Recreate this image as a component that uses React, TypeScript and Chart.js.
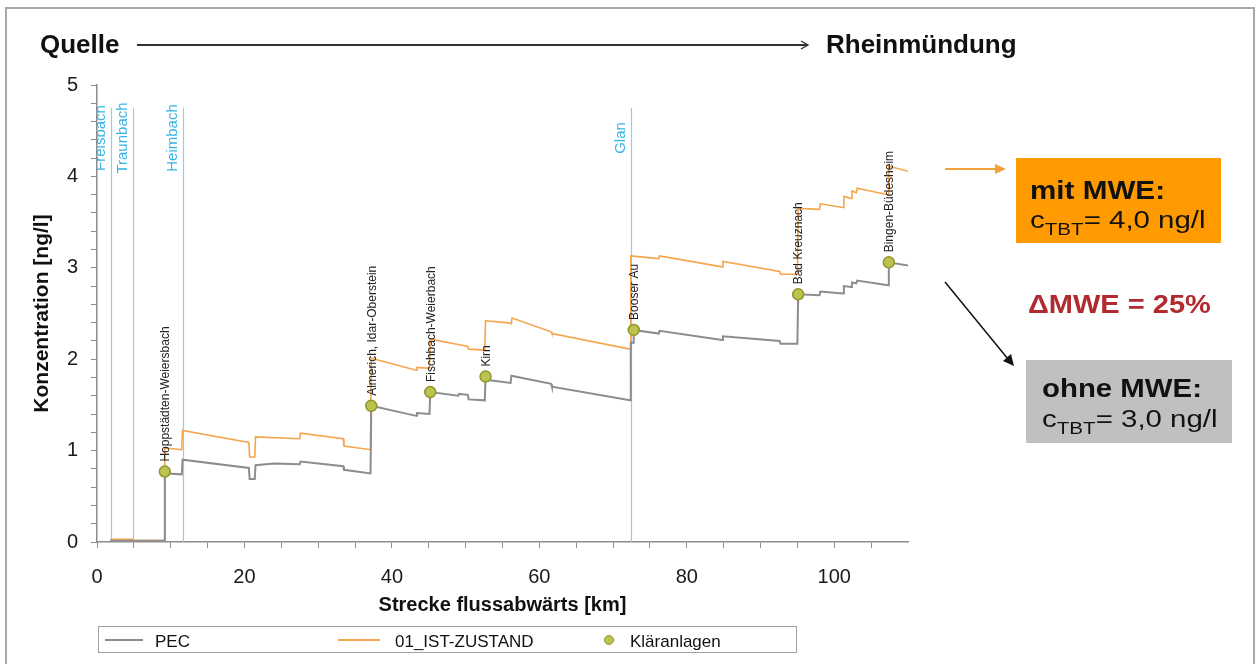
import React, { useEffect, useRef } from "react";
import { Chart, registerables } from "chart.js";

Chart.register(...registerables);

const FONT = '"Liberation Sans", Arial, sans-serif';

// PEC (ohne MWE) – river km and concentration
const pecKm = [0, 1.9, 1.9, 9.2, 9.2, 9.5, 11.5, 11.6, 20.6, 20.7, 21.4, 21.5, 24.0, 27.5, 27.6, 33.4, 33.5, 37.1, 37.2, 43.3, 43.4, 45.1, 45.2, 49.0, 49.1, 50.3, 50.4, 52.6, 52.7, 53.3, 56.1, 56.2, 61.6, 61.7, 72.3, 72.4, 72.8, 72.8, 76.2, 76.3, 84.8, 84.9, 92.6, 92.7, 95.0, 95.1, 98.0, 98.1, 101.2, 101.3, 102.3, 102.4, 103.0, 103.1, 107.3, 107.4, 110.3];
const pecVal = [0, 0, 0.015, 0.015, 0.77, 0.75, 0.74, 0.90, 0.81, 0.69, 0.69, 0.84, 0.86, 0.85, 0.88, 0.83, 0.79, 0.75, 1.49, 1.38, 1.41, 1.40, 1.64, 1.60, 1.62, 1.61, 1.56, 1.55, 1.81, 1.77, 1.74, 1.82, 1.73, 1.70, 1.55, 2.18, 2.18, 2.32, 2.28, 2.31, 2.21, 2.25, 2.20, 2.17, 2.17, 2.71, 2.70, 2.74, 2.72, 2.80, 2.79, 2.84, 2.83, 2.86, 2.81, 3.06, 3.02];

// 01_IST-ZUSTAND (mit MWE)
const istKm = [0, 1.9, 1.9, 4.9, 4.9, 9.2, 9.2, 11.5, 11.6, 20.6, 20.7, 21.4, 21.5, 27.5, 27.6, 33.4, 33.5, 37.1, 37.2, 43.3, 43.4, 45.1, 45.2, 49.0, 50.3, 50.4, 52.6, 52.7, 55.5, 56.2, 56.3, 61.6, 61.7, 72.3, 72.4, 76.2, 76.3, 84.8, 84.9, 92.6, 92.7, 95.0, 95.1, 98.0, 98.1, 101.2, 101.3, 102.3, 102.4, 103.0, 103.1, 107.3, 107.4, 110.3];
const istVal = [0, 0, 0.03, 0.03, 0.015, 0.015, 1.03, 1.01, 1.22, 1.09, 0.93, 0.93, 1.15, 1.13, 1.19, 1.13, 1.05, 1.01, 2.01, 1.88, 1.91, 1.90, 2.22, 2.16, 2.14, 2.11, 2.10, 2.42, 2.40, 2.39, 2.45, 2.30, 2.28, 2.11, 3.13, 3.10, 3.13, 3.01, 3.07, 2.96, 2.93, 2.93, 3.65, 3.64, 3.70, 3.66, 3.78, 3.76, 3.84, 3.82, 3.87, 3.80, 4.11, 4.05];

// Kläranlagen
const plantNames = ["Hoppstädten-Weiersbach", "Almerich, Idar-Oberstein", "Fischbach-Weierbach", "Kirn", "Booser Au", "Bad Kreuznach", "Bingen-Büdesheim"];
const plantKm = [9.2, 37.2, 45.2, 52.7, 72.8, 95.1, 107.4];
const plantVal = [0.77, 1.49, 1.64, 1.81, 2.32, 2.71, 3.06];

// Zuflüsse
const tributaryNames = ["Freisbach", "Traunbach", "Heimbach", "Glan"];
const tributaryKm = [1.9, 4.9, 11.6, 72.4];

// Axis ticks
const xTickValues = [0, 5, 10, 15, 20, 25, 30, 35, 40, 45, 50, 55, 60, 65, 70, 75, 80, 85, 90, 95, 100, 105];
const xTickLabels = ["0", "", "", "", "20", "", "", "", "40", "", "", "", "60", "", "", "", "80", "", "", "", "100", ""];
const yTickValues = [0, 0.2, 0.4, 0.6, 0.8, 1, 1.2, 1.4, 1.6, 1.8, 2, 2.2, 2.4, 2.6, 2.8, 3, 3.2, 3.4, 3.6, 3.8, 4, 4.2, 4.4, 4.6, 4.8, 5];
const yTickLabels = ["0", "", "", "", "", "1", "", "", "", "", "2", "", "", "", "", "3", "", "", "", "", "4", "", "", "", "", "5"];

const annotations = {
  id: "annotations",
  beforeDatasetsDraw(chart: any) {
    const { ctx, chartArea, scales } = chart;
    const x = scales.x;
    const y = scales.y;
    ctx.save();
    ctx.beginPath();
    ctx.rect(chartArea.left, chartArea.top, chartArea.right - chartArea.left, chartArea.bottom - chartArea.top);
    ctx.clip();
    tributaryKm.forEach((km, i) => {
      const px = Math.round(x.getPixelForValue(km)) + 0.5;
      ctx.strokeStyle = "#86d2f0";
      ctx.lineWidth = 1.2;
      ctx.beginPath();
      ctx.moveTo(px, y.getPixelForValue(4.75));
      ctx.lineTo(px, y.getPixelForValue(0));
      ctx.stroke();
      ctx.save();
      ctx.translate(px - 7, y.getPixelForValue(4.42));
      ctx.rotate(-Math.PI / 2);
      ctx.font = `15px ${FONT}`;
      ctx.fillStyle = "#38b3e4";
      ctx.textAlign = "center";
      ctx.textBaseline = "alphabetic";
      ctx.fillText(tributaryNames[i], 0, 0);
      ctx.restore();
    });
    ctx.restore();
  },
  afterDatasetsDraw(chart: any) {
    const { ctx, scales } = chart;
    const x = scales.x;
    const y = scales.y;
    ctx.save();
    plantNames.forEach((name, i) => {
      const px = x.getPixelForValue(plantKm[i]);
      const py = y.getPixelForValue(plantVal[i]);
      ctx.save();
      ctx.translate(px + 1, py - 10);
      ctx.rotate(-Math.PI / 2);
      ctx.font = `12px ${FONT}`;
      ctx.fillStyle = "#222";
      ctx.textAlign = "left";
      ctx.textBaseline = "middle";
      ctx.fillText(name, 0, 0);
      ctx.restore();
    });
    ctx.restore();
  },
};

function T(props: { x: number; base: number; size: number; bold?: boolean; color?: string; sx?: number; children: any }) {
  const { x, base, size, bold, color, sx, children } = props;
  return (
    <div
      style={{
        position: "absolute",
        left: x,
        top: base - 0.8465 * size,
        fontSize: size,
        lineHeight: `${size}px`,
        fontWeight: bold ? "bold" : "normal",
        color: color || "#111",
        whiteSpace: "nowrap",
        transform: sx ? `scaleX(${sx})` : undefined,
        transformOrigin: "left center",
        fontFamily: FONT,
      }}
    >
      {children}
    </div>
  );
}

const Sub = (p: { children: any }) => (
  <span style={{ fontSize: "0.7em", position: "relative", top: "0.45em" }}>{p.children}</span>
);

export default function App() {
  const ref = useRef<HTMLCanvasElement | null>(null);

  useEffect(() => {
    if (!ref.current) return;
    const chart = new Chart(ref.current, {
      type: "line",
      data: {
        datasets: [
          {
            type: "scatter",
            label: "Kläranlagen",
            data: plantKm.map((k, i) => ({ x: k, y: plantVal[i] })),
            pointRadius: 5.5,
            pointBackgroundColor: "#bcc24e",
            pointBorderColor: "#8e962c",
            pointBorderWidth: 1.5,
            showLine: false,
            order: 0,
          } as any,
          {
            label: "PEC",
            data: pecKm.map((k, i) => ({ x: k, y: pecVal[i] })),
            borderColor: "#8d8d8d",
            borderWidth: 2,
            pointRadius: 0,
            tension: 0,
            order: 1,
          },
          {
            label: "01_IST-ZUSTAND",
            data: istKm.map((k, i) => ({ x: k, y: istVal[i] })),
            borderColor: "#f6a54c",
            borderWidth: 1.6,
            pointRadius: 0,
            tension: 0,
            order: 2,
          },
        ],
      },
      options: {
        animation: false,
        responsive: false,
        devicePixelRatio: 1,
        layout: { padding: { left: 20, right: 351, top: 85, bottom: 42 } },
        plugins: { legend: { display: false }, tooltip: { enabled: false } },
        scales: {
          x: {
            type: "linear",
            min: 0,
            max: 110,
            afterBuildTicks: (s: any) => {
              s.ticks = xTickValues.map((v) => ({ value: v }));
            },
            afterFit: (s: any) => {
              s.height = 80;
            },
            ticks: {
              autoSkip: false,
              maxRotation: 0,
              padding: 17,
              color: "#1a1a1a",
              font: { size: 20, family: FONT },
              callback: (_v: any, i: number) => xTickLabels[i],
            },
            grid: { drawOnChartArea: false, drawTicks: true, tickLength: 6, color: "#8c8c8c" },
            border: { color: "#8c8c8c", width: 1.5 },
            title: {
              display: true,
              text: "Strecke flussabwärts [km]",
              color: "#111",
              font: { size: 20, weight: "bold", family: FONT },
              padding: { top: 0, bottom: 5 },
            },
          },
          y: {
            type: "linear",
            min: 0,
            max: 5,
            afterBuildTicks: (s: any) => {
              s.ticks = yTickValues.map((v) => ({ value: v }));
            },
            afterFit: (s: any) => {
              s.width = 77;
            },
            ticks: {
              autoSkip: false,
              padding: 13,
              color: "#1a1a1a",
              font: { size: 20, family: FONT },
              callback: (_v: any, i: number) => yTickLabels[i],
            },
            grid: { drawOnChartArea: false, drawTicks: true, tickLength: 6, color: "#8c8c8c" },
            border: { color: "#8c8c8c", width: 1.5 },
            title: {
              display: true,
              text: "Konzentration [ng/l]",
              color: "#111",
              font: { size: 21, weight: "bold", family: FONT },
              padding: { top: 10, bottom: 0 },
            },
          },
        },
      } as any,
      plugins: [annotations],
    });
    return () => chart.destroy();
  }, []);

  return (
    <div style={{ position: "fixed", left: 0, top: 0, width: 1259, height: 664, overflow: "hidden", background: "#fff", fontFamily: FONT }}>
      <div
        style={{
          position: "absolute",
          left: 5,
          top: 7,
          width: 1250,
          height: 720,
          border: "2px solid #a8a8a8",
          boxSizing: "border-box",
        }}
      />
      <canvas ref={ref} width={1259} height={664} style={{ position: "absolute", left: 0, top: 0, width: 1259, height: 664 }} />

      {/* header */}
      <T x={40} base={53} size={26} bold>Quelle</T>
      <T x={826} base={53} size={26} bold>Rheinmündung</T>
      <svg width={1259} height={664} style={{ position: "absolute", left: 0, top: 0, pointerEvents: "none" }}>
        <line x1={137} y1={45} x2={807} y2={45} stroke="#333" strokeWidth={1.8} />
        <polyline points="801,41 808,45 801,49" fill="none" stroke="#333" strokeWidth={1.4} />
        <line x1={945} y1={169} x2={997} y2={169} stroke="#f2a23a" strokeWidth={2} />
        <polygon points="1006,169 995,164 995,174" fill="#f2a23a" />
        <line x1={945} y1={282} x2={1008} y2={359} stroke="#111" strokeWidth={1.5} />
        <polygon points="1014,366 1003,361 1011,354" fill="#111" />
      </svg>

      {/* right annotation boxes */}
      <div style={{ position: "absolute", left: 1016, top: 158, width: 205, height: 85, background: "#ff9a00" }} />
      <T x={1030} base={199} size={26} bold sx={1.14}>mit MWE:</T>
      <T x={1030} base={228} size={23} sx={1.28}>
        c<Sub>TBT</Sub>= 4,0 ng/l
      </T>

      <T x={1028} base={313} size={25} bold color="#b02a2e" sx={1.16}>ΔMWE = 25%</T>

      <div style={{ position: "absolute", left: 1026, top: 360, width: 206, height: 83, background: "#c0c0c0" }} />
      <T x={1042} base={397} size={26} bold sx={1.13}>ohne MWE:</T>
      <T x={1042} base={427} size={23} sx={1.28}>
        c<Sub>TBT</Sub>= 3,0 ng/l
      </T>

      {/* legend */}
      <div style={{ position: "absolute", left: 98, top: 626, width: 699, height: 27, border: "1px solid #a0a0a0", boxSizing: "border-box" }} />
      <div style={{ position: "absolute", left: 105, top: 639, width: 38, height: 2, background: "#8d8d8d" }} />
      <T x={155} base={647} size={17}>PEC</T>
      <div style={{ position: "absolute", left: 338, top: 639, width: 42, height: 2, background: "#f6a54c" }} />
      <T x={395} base={647} size={17}>01_IST-ZUSTAND</T>
      <div style={{ position: "absolute", left: 604, top: 635, width: 8, height: 8, borderRadius: "50%", background: "#bcc24e", border: "1px solid #8e962c" }} />
      <T x={630} base={647} size={17}>Kläranlagen</T>
    </div>
  );
}
